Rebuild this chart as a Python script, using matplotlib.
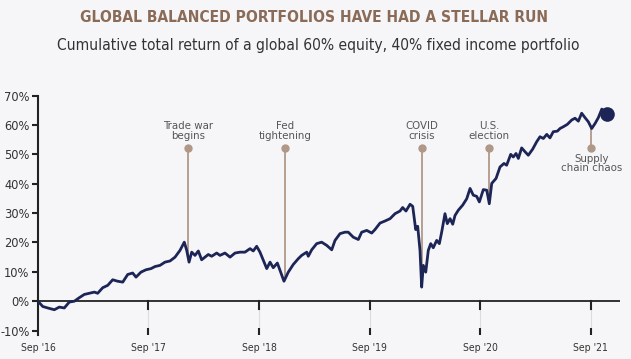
import matplotlib
matplotlib.use('Agg')
import matplotlib.pyplot as plt
import numpy as np

# years since Sep 2016, cumulative return (%)
t = [0.000, 0.043, 0.088, 0.148, 0.193, 0.238, 0.283, 0.329, 0.374, 0.419,
     0.464, 0.510, 0.540, 0.586, 0.631, 0.676, 0.721, 0.767, 0.812, 0.857,
     0.887, 0.932, 0.977, 1.023, 1.059, 1.104, 1.149, 1.195, 1.240, 1.285,
     1.324, 1.346, 1.367, 1.391, 1.421, 1.451, 1.481, 1.511, 1.541, 1.572,
     1.617, 1.647, 1.692, 1.738, 1.783, 1.828, 1.873, 1.919, 1.948, 1.979,
     2.009, 2.039, 2.070, 2.100, 2.129, 2.166, 2.196, 2.226, 2.265, 2.310,
     2.356, 2.386, 2.432, 2.446, 2.477, 2.522, 2.567, 2.613, 2.658, 2.688,
     2.733, 2.778, 2.808, 2.853, 2.899, 2.929, 2.975, 3.020, 3.050, 3.095,
     3.140, 3.186, 3.231, 3.276, 3.300, 3.330, 3.367, 3.391, 3.418, 3.436,
     3.457, 3.472, 3.487, 3.509, 3.532, 3.554, 3.577, 3.608, 3.632, 3.653,
     3.683, 3.704, 3.729, 3.753, 3.774, 3.804, 3.843, 3.880, 3.910, 3.939,
     3.970, 3.994, 4.030, 4.061, 4.084, 4.106, 4.145, 4.181, 4.217, 4.241,
     4.278, 4.301, 4.326, 4.347, 4.377, 4.407, 4.437, 4.477, 4.513, 4.543,
     4.573, 4.604, 4.633, 4.663, 4.700, 4.724, 4.754, 4.790, 4.830, 4.860,
     4.890, 4.920, 4.950, 4.980, 5.011, 5.041, 5.071, 5.102, 5.122, 5.147]
ret = [0.0, -1.8, -2.3, -2.9, -2.0, -2.3, -0.3, 0.0, 1.2, 2.3,
       2.7, 3.1, 2.7, 4.6, 5.4, 7.3, 6.8, 6.5, 9.1, 9.6,
       8.2, 9.9, 10.7, 11.1, 11.8, 12.2, 13.3, 13.7, 15.0, 17.3,
       20.1, 17.3, 13.3, 16.7, 15.6, 17.1, 14.1, 15.0, 15.9, 15.3,
       16.4, 15.6, 16.4, 15.0, 16.4, 16.7, 16.7, 17.9, 17.1, 18.7,
       16.7, 13.9, 11.1, 13.3, 11.4, 13.0, 9.9, 6.8, 9.9, 12.5,
       14.5, 15.6, 16.7, 15.3, 17.5, 19.6, 20.1, 19.0, 17.5, 20.7,
       23.0, 23.5, 23.5, 21.8, 21.0, 23.5, 24.1, 23.2, 24.4, 26.6,
       27.3, 28.1, 29.8, 30.7, 31.9, 30.7, 33.0, 32.3, 24.4, 25.5,
       17.3, 4.8, 12.2, 9.9, 17.3, 19.6, 18.2, 20.7, 19.6, 23.5,
       29.8, 26.4, 28.1, 26.2, 29.2, 31.0, 32.7, 34.9, 38.4, 36.1,
       35.7, 33.8, 38.0, 37.8, 33.2, 40.1, 41.8, 45.7, 46.9, 46.3,
       50.0, 49.1, 50.3, 48.6, 52.2, 50.9, 49.7, 51.8, 54.3, 56.0,
       55.4, 56.8, 55.6, 57.7, 57.9, 58.8, 59.4, 60.2, 61.7, 62.3,
       61.3, 64.0, 62.5, 61.1, 58.8, 60.5, 62.5, 65.4, 64.7, 63.7]

events = ['Trade war\nbegins', 'Fed\ntightening', 'COVID\ncrisis', 'U.S.\nelection', 'Supply\nchain chaos']
event_t = [1.36, 2.235, 3.472, 4.084, 5.007]
event_dot = [52.3, 52.3, 52.3, 52.3, 52.2]

year_t = [0, 1, 2, 3, 4, 5]
year_labels = ["Sep '16", "Sep '17", "Sep '18", "Sep '19", "Sep '20", "Sep '21"]
y_ticks = [-10, 0, 10, 20, 30, 40, 50, 60, 70]

navy = '#1d2556'
tan = '#b09888'
brown = '#8a6b57'
grey = '#555555'
bg = '#f6f6f8'
plt.rcParams['font.family'] = ['DejaVu Sans']
plt.rcParams['font.stretch'] = 'condensed'

fig = plt.figure(figsize=(6.31, 3.59), dpi=100, facecolor=bg)
ax = fig.add_axes([0.0602, 0.0669, 0.9224, 0.6668])
ax.set_facecolor(bg)

# year markers below zero line
for yt in year_t[1:]:
    ax.plot([yt, yt], [-2.6, -10.0], color='#dcdcdc', lw=0.8, zorder=1)
    ax.plot([yt, yt], [0, -2.6], color='#222222', lw=1.5, zorder=2)
ax.axhline(0, color='#222222', lw=1.3, zorder=2)

# event annotations
for lab, et, ed in zip(events, event_t, event_dot):
    yc = np.interp(et, t, ret)
    ax.plot([et, et], [ed, yc], color=tan, lw=1.3, zorder=3)
    ax.plot(et, ed, 'o', color=tan, ms=5, zorder=4)
    if ed < yc:
        ax.text(et, ed - 2.0, lab, ha='center', va='top', fontsize=8.2,
                color=grey, linespacing=0.95)
    else:
        ax.text(et, ed + 2.3, lab, ha='center', va='bottom', fontsize=8.2,
                color=grey, linespacing=0.95)

ax.plot(t, ret, color=navy, lw=2.0, zorder=5, solid_joinstyle='round')
ax.plot(t[-1], ret[-1], 'o', color=navy, ms=9.5, zorder=6)

ax.set_xlim(0, 5.267)
ax.set_ylim(-11.5, 70)
ax.set_yticks(y_ticks)
ax.set_yticklabels([f'{v}%' for v in y_ticks])
ax.set_xticks(year_t[1:])
ax.set_xticklabels([])
for yt, lab in zip(year_t, year_labels):
    ax.text(yt, -15.9, lab, ha='center', va='center', fontsize=7.5, color='#333333')
ax.tick_params(axis='x', direction='in', length=5, width=1.5, color='#222222')
ax.tick_params(axis='y', direction='out', length=4, width=1.5, color='#222222',
               labelsize=9.2, labelcolor='#333333', pad=2)
for s in ['top', 'right', 'bottom']:
    ax.spines[s].set_visible(False)
ax.spines['left'].set_linewidth(1.5)
ax.spines['left'].set_color('#222222')

fig.text(0.497, 0.952, 'GLOBAL BALANCED PORTFOLIOS HAVE HAD A STELLAR RUN',
         ha='center', va='center', fontsize=11.2, fontweight='bold', color=brown)
fig.text(0.505, 0.872, 'Cumulative total return of a global 60% equity, 40% fixed income portfolio',
         ha='center', va='center', fontsize=11.2, color='#333333')

plt.savefig('out.png', dpi=100, facecolor=bg)
